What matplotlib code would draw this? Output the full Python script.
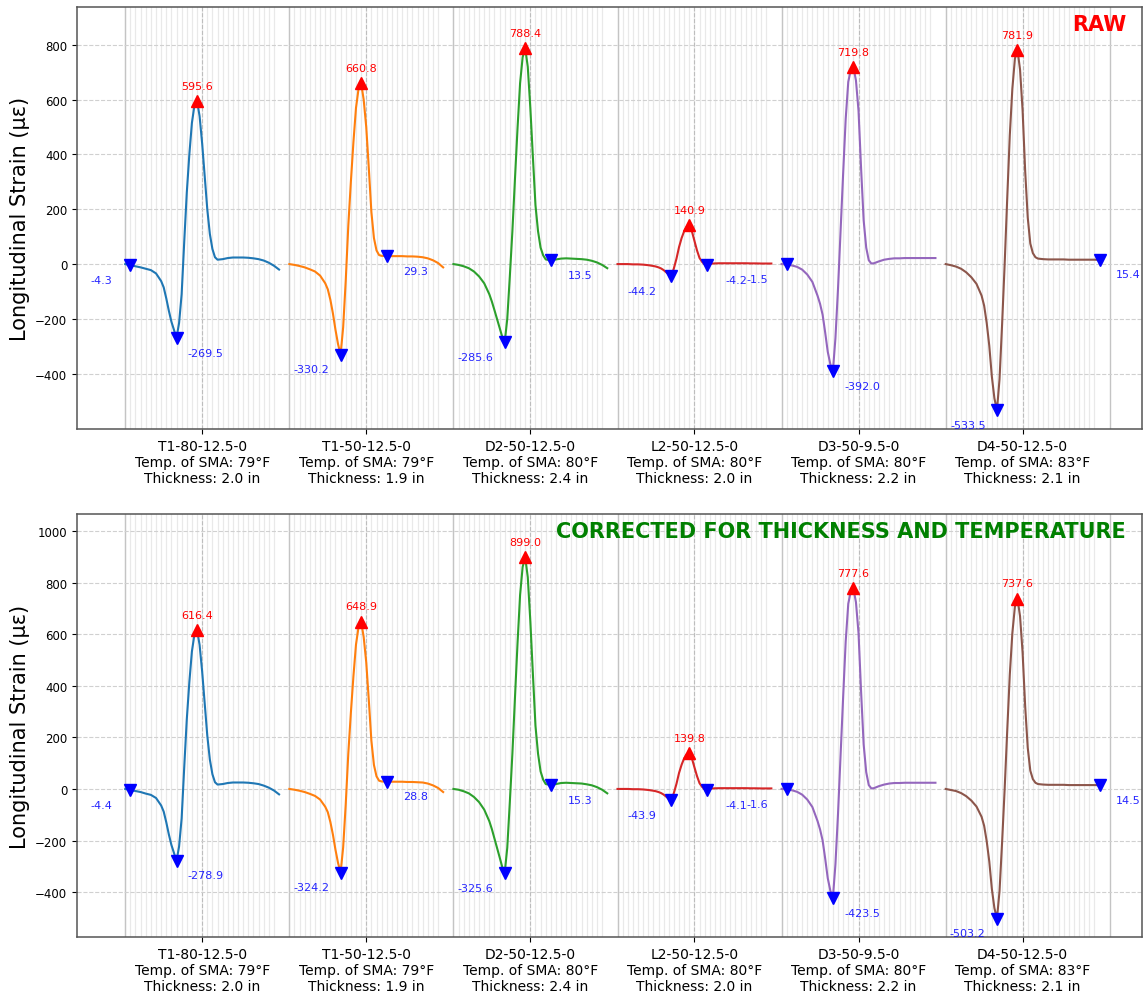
import matplotlib
matplotlib.use("Agg")
import matplotlib.pyplot as plt

# Specimen descriptions
specimens = ["T1-80-12.5-0", "T1-50-12.5-0", "D2-50-12.5-0",
             "L2-50-12.5-0", "D3-50-9.5-0", "D4-50-12.5-0"]
sma_temp_f = [79, 79, 80, 80, 80, 83]
thickness_in = [2.0, 1.9, 2.4, 2.0, 2.2, 2.1]

# Sample positions within each specimen's trace (denser around the pulse)
sample_pos = ([0, 1, 2, 3, 4, 5, 6, 7]
              + [7.5, 8, 8.5, 9, 9.5, 10, 10.5, 11, 11.5, 12, 12.5, 13, 13.5, 14,
                 14.5, 15, 15.5, 16, 16.5, 17, 17.5, 18]
              + [19, 20, 21, 22, 23, 24, 25, 26, 27, 28, 29, 30])

# Raw longitudinal strain traces (microstrain)
raw_T1_80 = [0, -4.3, -8, -12, -17, -22, -34, -62, -85, -125, -170, -210, -240, -269.5,
             -215, -110, 80, 260, 400, 515, 580, 595.6, 540, 440, 320, 200, 110, 55, 25, 16,
             18, 22, 24, 24, 24, 23, 21, 18, 13, 5, -6, -20]
raw_T1_50 = [0, -3, -7, -12, -19, -27, -42, -70, -92, -130, -180, -240, -292, -330.2,
             -230, -60, 140, 300, 445, 570, 640, 660.8, 600, 500, 350, 190, 95, 50, 33, 30,
             29.3, 29, 29, 29, 28, 28, 27, 25, 21, 14, 4, -12]
raw_D2_50 = [0, -3, -8, -15, -27, -45, -70, -110, -137, -168, -200, -232, -264, -285.6,
             -200, -45, 120, 310, 495, 660, 755, 788.4, 720, 570, 390, 215, 120, 60, 32, 17,
             13.5, 17, 20, 21, 20, 19, 18, 16, 12, 6, -3, -15]
raw_L2_50 = [0, 0, 0, -1, -1, -2, -4, -7, -9, -12, -16, -22, -30, -38,
             -44.2, -15, 20, 62, 95, 120, 136, 140.9, 120, 85, 50, 22, 8, -1, -4.2, 1,
             2.5, 3, 3, 3, 3, 3, 3, 2.5, 2.5, 2, 2, 2]
raw_D3_50 = [0, -1.5, -5, -10, -20, -38, -65, -115, -145, -185, -250, -320, -365, -392.0,
             -270, -90, 120, 330, 530, 665, 710, 719.8, 670, 560, 350, 160, 60, 14, 2, 3,
             10, 16, 19, 21, 21, 22, 22, 22, 22, 22, 22, 22]
raw_D4_50 = [0, -4, -9, -17, -30, -48, -72, -115, -152, -215, -298, -410, -490, -533.5,
             -420, -220, 0, 240, 470, 640, 750, 781.9, 710, 560, 340, 170, 75, 40, 25, 20,
             18, 17, 17, 17, 17, 16, 16, 16, 16, 16, 16, 15.4]

# Strain traces corrected for thickness and SMA temperature
cor_T1_80 = [0, -4.4, -8, -12, -18, -23, -35, -64, -88, -129, -176, -217, -248, -278.9,
             -223, -114, 83, 269, 414, 533, 600, 616.4, 559, 455, 331, 207, 114, 57, 26, 17,
             19, 23, 25, 25, 25, 24, 22, 19, 13, 5, -6, -21]
cor_T1_50 = [0, -3, -7, -12, -19, -27, -41, -69, -90, -128, -177, -236, -287, -324.2,
             -226, -59, 137, 295, 437, 560, 628, 648.9, 589, 491, 344, 187, 93, 49, 32, 29,
             28.8, 28, 28, 28, 27, 27, 26, 25, 21, 14, 4, -12]
cor_D2_50 = [0, -3, -9, -17, -31, -51, -80, -125, -156, -192, -228, -264, -301, -325.6,
             -228, -51, 137, 353, 564, 752, 861, 899.0, 821, 650, 445, 245, 137, 68, 36, 19,
             15.3, 19, 23, 24, 23, 22, 21, 18, 14, 7, -3, -17]
cor_L2_50 = [0, 0, 0, -1, -1, -2, -4, -7, -9, -12, -16, -22, -30, -38,
             -43.9, -15, 20, 62, 94, 119, 135, 139.8, 119, 84, 50, 22, 8, -1, -4.1, 1,
             2.5, 3, 3, 3, 3, 3, 3, 2.5, 2.5, 2, 2, 2]
cor_D3_50 = [0, -1.6, -5, -11, -22, -41, -70, -124, -157, -200, -270, -346, -394, -423.5,
             -292, -97, 130, 356, 572, 718, 767, 777.6, 724, 605, 378, 173, 65, 15, 2, 3,
             11, 17, 21, 23, 23, 24, 24, 24, 24, 24, 24, 24]
cor_D4_50 = [0, -4, -8, -16, -28, -45, -68, -108, -143, -203, -281, -387, -462, -503.2,
             -396, -207, 0, 226, 443, 604, 707, 737.6, 670, 528, 321, 160, 71, 38, 24, 19,
             17, 16, 16, 16, 16, 15, 15, 15, 15, 15, 15, 14.5]

raw_series = [raw_T1_80, raw_T1_50, raw_D2_50, raw_L2_50, raw_D3_50, raw_D4_50]
cor_series = [cor_T1_80, cor_T1_50, cor_D2_50, cor_L2_50, cor_D3_50, cor_D4_50]

# Positions of the labelled valleys and of the main peak in each trace
valley_pos = [[1, 10], [10, 19], [10, 19], [10.5, 17.5], [1, 10], [10, 30]]
peak_pos = [14, 14, 14, 14, 14, 14]

colors = ["#1f77b4", "#ff7f0e", "#2ca02c", "#d62728", "#9467bd", "#8c564b"]
SEG = 32          # horizontal room given to each specimen
CENTER = 15       # position of the specimen tick inside its block


def draw_panel(ax, series, ylim, yticks, tag, tag_color):
    n_seg = len(series)
    for i in range(n_seg):
        for k in range(30):
            ax.axvline(SEG * i + k, color="#e9e9e9", lw=0.9, zorder=0)
    for i in range(n_seg + 1):
        ax.axvline(SEG * i, color="#c4c4c4", lw=1.0, zorder=0.5)

    for i, ys in enumerate(series):
        xs = [SEG * i + k for k in sample_pos]
        ax.plot(xs, ys, color=colors[i], lw=1.5, zorder=3)

        p = sample_pos.index(peak_pos[i])
        ax.plot(xs[p], ys[p], marker="^", color="red", ms=8, ls="none", zorder=4)
        ax.annotate(f"{ys[p]:.1f}", (xs[p], ys[p]), xytext=(0, 11),
                    textcoords="offset points", ha="center", va="center",
                    color="red", fontsize=8, zorder=5)

        for j, vpos in enumerate(valley_pos[i]):
            v = sample_pos.index(vpos)
            side = -1 if j == 0 else 1
            ax.plot(xs[v], ys[v], marker="v", color="blue", ms=8, ls="none", zorder=4)
            ax.annotate(f"{ys[v]:.1f}", (xs[v], ys[v]), xytext=(side * 21, -10.5),
                        textcoords="offset points", ha="center", va="center",
                        color="blue", alpha=0.85, fontsize=8, zorder=5)

    ax.set_xlim(-9.4, 198.3)
    ax.set_ylim(*ylim)
    ax.set_yticks(yticks)
    ax.tick_params(axis="y", labelsize=8.5)
    ax.set_xticks([SEG * i + CENTER for i in range(n_seg)])
    ax.set_xticklabels([f"{s}\nTemp. of SMA: {t}°F\nThickness: {th:.1f} in"
                        for s, t, th in zip(specimens, sma_temp_f, thickness_in)],
                       fontsize=10)
    ax.yaxis.grid(True, ls="--", color="#d0d0d0", lw=0.8, zorder=0)
    ax.xaxis.grid(True, ls="--", color="#bdbdbd", lw=0.8, zorder=0.6)
    ax.set_axisbelow(True)
    for sp in ax.spines.values():
        sp.set_color("#555555")
        sp.set_linewidth(1.1)
    ax.set_ylabel("Longitudinal Strain (με)", fontsize=15)
    ax.text(0.985, 0.96, tag, transform=ax.transAxes, ha="right", va="center",
            color=tag_color, fontsize=15, fontweight="bold", zorder=6)


fig = plt.figure(figsize=(11.43, 9.95), dpi=100)
ax_raw = fig.add_axes([0.0674, 0.5678, 0.9318, 0.4241])
ax_cor = fig.add_axes([0.0674, 0.0573, 0.9318, 0.4251])

draw_panel(ax_raw, raw_series, (-602, 938), [-400, -200, 0, 200, 400, 600, 800],
           "RAW", "red")
draw_panel(ax_cor, cor_series, (-574, 1066), [-400, -200, 0, 200, 400, 600, 800, 1000],
           "CORRECTED FOR THICKNESS AND TEMPERATURE", "green")

fig.savefig("out.png", dpi=100)
